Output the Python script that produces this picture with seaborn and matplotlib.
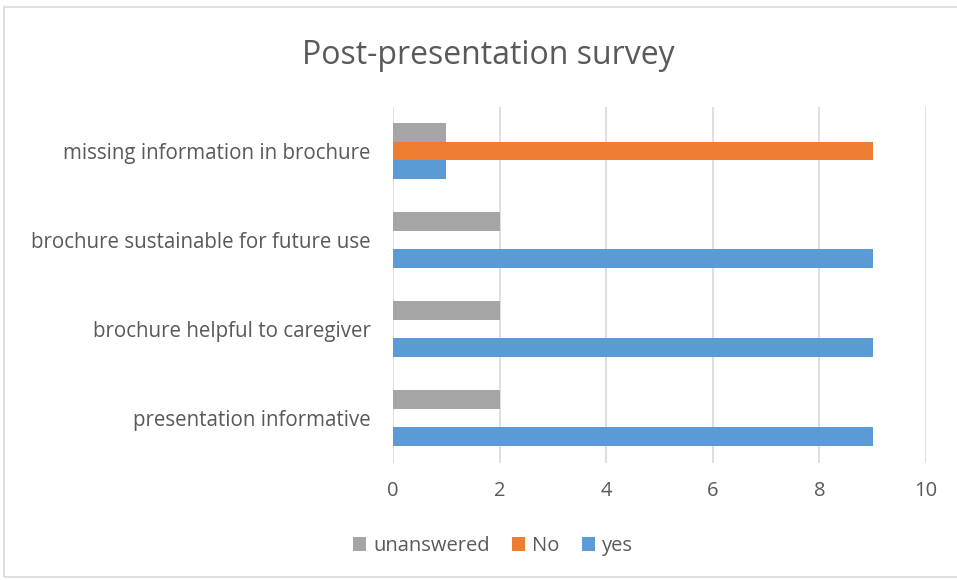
import matplotlib
matplotlib.use("Agg")
import matplotlib.pyplot as plt
import seaborn as sns
import pandas as pd
from matplotlib.patches import Rectangle

categories = ["missing information in brochure", "brochure sustainable for future use",
              "brochure helpful to caregiver", "presentation informative"]
series = ["unanswered", "No", "yes"]
unanswered = [1, 2, 2, 2]
no_vals = [9, 0, 0, 0]
yes_vals = [1, 9, 9, 9]
colors = ["#A5A5A5", "#ED7D31", "#5B9BD5"]
xticks = [0, 2, 4, 6, 8, 10]

rows = []
for name, vals in zip(series, [unanswered, no_vals, yes_vals]):
    for c, v in zip(categories, vals):
        rows.append({"category": c, "series": name, "value": v})
df = pd.DataFrame(rows)

sns.set_style("white")
plt.rcParams["font.family"] = ["Open Sans", "DejaVu Sans"]
text_color = "#595959"

fig = plt.figure(figsize=(9.57, 5.8), dpi=100)
ax = fig.add_axes([393/957, 1-462.5/580, (926-393)/957, 356/580])

sns.barplot(data=df, y="category", x="value", hue="series", order=categories,
            hue_order=series, palette=colors, orient="h", width=0.63,
            linewidth=0, saturation=1, ax=ax, legend=True)

ax.set_xlim(0, 10)
ax.set_xticks(xticks)
ax.set_xticklabels([str(t) for t in xticks], fontsize=14.5, color=text_color)
ax.set_yticklabels(categories, fontsize=14.8, color=text_color)
ax.set_xlabel("")
ax.set_ylabel("")
ax.grid(axis="x", color="#D9D9D9", linewidth=1.2)
ax.set_axisbelow(True)
for s in ax.spines.values():
    s.set_visible(False)
ax.tick_params(axis="x", length=0, pad=13)
ax.tick_params(axis="y", length=0, pad=16)

leg = ax.legend(loc="center", bbox_to_anchor=(493/957, 1-546/580),
                bbox_transform=fig.transFigure, ncol=3, frameon=False,
                fontsize=14.5, handlelength=0.65, handleheight=0.65,
                handletextpad=0.35, columnspacing=1.1)
for t in leg.get_texts():
    t.set_color(text_color)

fig.text(488/957, 1-56/580, "Post-presentation survey", ha="center", va="center",
         fontsize=23, color=text_color)

fig.patches.append(Rectangle((4/957, 3/580), 1.1, 1-10/580, transform=fig.transFigure,
                             fill=False, edgecolor="#D9D9D9", linewidth=1.2))

fig.savefig("out.png", dpi=100)
